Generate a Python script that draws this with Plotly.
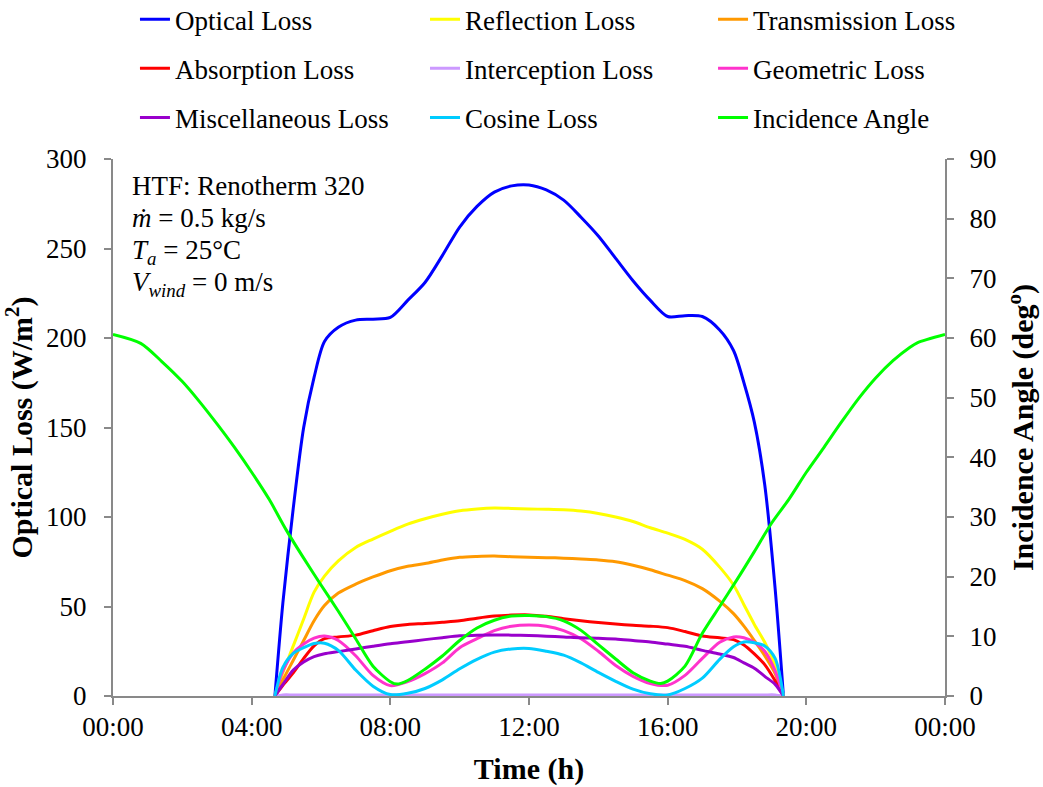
import plotly.graph_objects as go

# Hour-of-day grid for the loss curves (sunrise to sunset)
hours = [4.67, 4.9, 5.2, 5.5, 5.8, 6.1, 6.5, 7.0, 7.5, 8.0, 8.5, 9.0, 9.5, 10.0,
         10.5, 11.0, 11.5, 12.0, 12.5, 13.0, 13.5, 14.0, 14.5, 15.0, 15.5, 16.0,
         16.5, 17.0, 17.5, 17.9, 18.2, 18.5, 18.8, 19.1, 19.34]

optical_loss = [0, 52, 105, 150, 178, 198, 206, 210, 210.5, 211.5, 221, 231, 246, 262,
                273.5, 281.5, 285, 285.5, 282.7, 277, 267.5, 257, 244.5, 232, 221, 212,
                212.5, 212, 204.5, 193, 175, 153, 118, 60, 0]
reflection_loss = [0, 13, 28, 43, 58, 67, 75.5, 83, 87.7, 92, 96, 99, 101.5, 103.5,
                   104.5, 105, 104.8, 104.5, 104.3, 104, 103.3, 102, 100, 97.5, 94, 91,
                   87.5, 82, 72, 62, 51, 40, 30, 17, 0]
transmission_loss = [0, 9, 20, 31, 42, 50.5, 57.5, 62.5, 66.5, 70, 72.5, 74, 76, 77.5,
                     78, 78.2, 77.8, 77.5, 77.3, 77, 76.5, 76, 75, 73, 70.5, 67.5,
                     64.5, 60, 53, 46, 39, 31, 22.5, 12.5, 0]
absorption_loss = [0, 6, 13, 21, 28, 32, 33, 34, 36.5, 38.8, 40, 40.5, 41.2, 42,
                   43.5, 44.7, 45.2, 45.3, 44.5, 43.2, 42, 41, 40.2, 39.5, 39, 38.2,
                   36, 33.5, 32.5, 31.5, 28.5, 23.5, 17.5, 8.5, 0]
interception_loss = [0, 0.6, 0.6, 0.6, 0.6, 0.6, 0.6, 0.6, 0.6, 0.6, 0.6, 0.6, 0.6, 0.6,
                     0.6, 0.6, 0.6, 0.6, 0.6, 0.6, 0.6, 0.6, 0.6, 0.6, 0.6, 0.6,
                     0.6, 0.6, 0.6, 0.6, 0.6, 0.6, 0.6, 0.6, 0]
geometric_loss = [0, 14, 24, 29, 32.3, 33.5, 31, 22.5, 11.5, 5.8, 8, 12.5, 18.5, 27,
                  32, 36.5, 39, 39.7, 39, 36.5, 32, 25, 17, 11, 7, 6,
                  11.5, 21, 30, 33, 32.5, 30, 25, 14, 0]
misc_loss = [0, 6.5, 14.5, 19, 22, 23.6, 24.8, 26.3, 27.8, 29.2, 30.3, 31.5, 32.6, 33.6,
             34, 34.1, 34, 33.8, 33.4, 33, 32.5, 32.3, 31.8, 31, 30.2, 29,
             27.8, 25.5, 23.5, 21.5, 18.5, 15.5, 11, 6.5, 0]
cosine_loss = [0, 16, 23.8, 27, 29.3, 29.5, 25.5, 14.5, 5.5, 0.8, 1.5, 4.2, 9, 15.2,
               20.5, 24.5, 26.3, 26.6, 25, 22.8, 18.5, 13.2, 8.2, 3.8, 1.2, 0.6,
               4.2, 10, 20.5, 27.5, 30.2, 29.8, 28, 21, 0]

# Incidence angle over the whole day (secondary axis, degrees)
angle_hours = [0, 0.8, 1.4, 2.0, 2.5, 3.0, 3.5, 4.0, 4.5, 5.0, 5.5, 6.0, 6.5, 7.0, 7.5,
               8.0, 8.2, 8.5, 9.0, 9.5, 10.0, 10.5, 11.0, 11.5, 12.0, 12.5, 13.0,
               13.5, 14.0, 14.5, 15.0, 15.5, 15.8, 16.0, 16.5, 17.0, 17.5, 18.0,
               18.5, 19.0, 19.5, 20.0, 20.5, 21.0, 21.5, 22.0, 22.5, 23.0, 23.2, 24.0]
incidence_angle = [60.6, 59.1, 56.1, 52.7, 49.3, 45.6, 41.7, 37.5, 33.0, 27.8, 23.1,
                   18.6, 14.2, 9.6, 5.0, 2.4, 2.0, 2.6, 4.5, 6.7, 9.3, 11.4, 12.7,
                   13.4, 13.5, 13.3, 12.6, 11.0, 8.6, 6.2, 3.9, 2.5, 2.1, 2.5, 5.0,
                   10.5, 15.0, 19.5, 24.2, 29.0, 33.0, 37.5, 41.6, 45.8, 49.8, 53.3,
                   56.2, 58.5, 59.2, 60.6]

time_ticks = [0, 4, 8, 12, 16, 20, 24]
time_labels = ["00:00", "04:00", "08:00", "12:00", "16:00", "20:00", "00:00"]

FONT = "Times New Roman, Liberation Serif, serif"
AXIS_GREY = "#898989"
TEXT_SIZE = 27

# (name, values, colour, legend column)
series = [
    ("Optical Loss", optical_loss, "#0000FF", "legend"),
    ("Reflection Loss", reflection_loss, "#FFFF00", "legend2"),
    ("Transmission Loss", transmission_loss, "#FF9900", "legend3"),
    ("Absorption Loss", absorption_loss, "#FF0000", "legend"),
    ("Interception Loss", interception_loss, "#CC99FF", "legend2"),
    ("Geometric Loss", geometric_loss, "#FF33CC", "legend3"),
    ("Miscellaneous Loss", misc_loss, "#9900CC", "legend"),
    ("Cosine Loss", cosine_loss, "#00CCFF", "legend2"),
]

fig = go.Figure()
for name, vals, color, leg in series:
    fig.add_trace(go.Scatter(
        x=hours, y=vals, name=name, mode="lines",
        line=dict(color=color, width=3, shape="spline", smoothing=0.8),
        legend=leg, legendgroup=name,
    ))

fig.add_trace(go.Scatter(
    x=angle_hours, y=incidence_angle, name="Incidence Angle", mode="lines",
    line=dict(color="#00FF00", width=3, shape="spline", smoothing=0.8),
    yaxis="y2", legend="legend3", legendgroup="Incidence Angle",
))

axis_common = dict(
    showline=True, linecolor=AXIS_GREY, linewidth=2,
    ticks="outside", ticklen=7, tickwidth=2, tickcolor=AXIS_GREY,
    showgrid=False, zeroline=False,
    tickfont=dict(family=FONT, size=TEXT_SIZE, color="black"),
    automargin=False,
)

legend_common = dict(
    orientation="v", yanchor="top", y=1.305, xanchor="left",
    font=dict(family=FONT, size=TEXT_SIZE, color="black"),
    tracegroupgap=11, bgcolor="rgba(0,0,0,0)",
)

fig.update_layout(
    width=1043, height=787,
    margin=dict(l=113, r=98, t=159, b=91, autoexpand=False),
    paper_bgcolor="white", plot_bgcolor="white",
    font=dict(family=FONT, size=TEXT_SIZE, color="black"),
    xaxis=dict(range=[0, 24], tickvals=time_ticks, ticktext=time_labels,
               ticklabelstandoff=-1,
               title=dict(text="<b>Time (h)</b>", font=dict(family=FONT, size=30), standoff=17),
               **axis_common),
    yaxis=dict(range=[0, 300], dtick=50, ticklabelstandoff=12,
               title=dict(text="<b>Optical Loss (W/m<sup>2</sup>)</b>",
                          font=dict(family=FONT, size=30), standoff=5),
               **axis_common),
    yaxis2=dict(range=[0, 90], dtick=10, overlaying="y", side="right",
                ticklabelstandoff=10,
                title=dict(text="<b>Incidence Angle (deg<sup>o</sup>)</b>",
                           font=dict(family=FONT, size=30), standoff=17),
                **axis_common),
    legend=dict(x=0.0264, **legend_common),
    legend2=dict(x=0.375, **legend_common),
    legend3=dict(x=0.7212, **legend_common),
    showlegend=True,
)

# Operating conditions block
conditions = [
    ("HTF: Renotherm 320", 0.9497),
    ("<i>ṁ</i> = 0.5 kg/s", 0.8901),
    ("<i>T<sub>a</sub></i> = 25°C", 0.8268),
    ("<i>V<sub>wind</sub></i> = 0 m/s", 0.7672),
]
for text, ypos in conditions:
    fig.add_annotation(
        x=0.0204, y=ypos, xref="paper", yref="paper",
        xanchor="left", yanchor="middle", showarrow=False, align="left",
        text=text, font=dict(family=FONT, size=TEXT_SIZE, color="black"),
    )

fig.write_html("out.html")
